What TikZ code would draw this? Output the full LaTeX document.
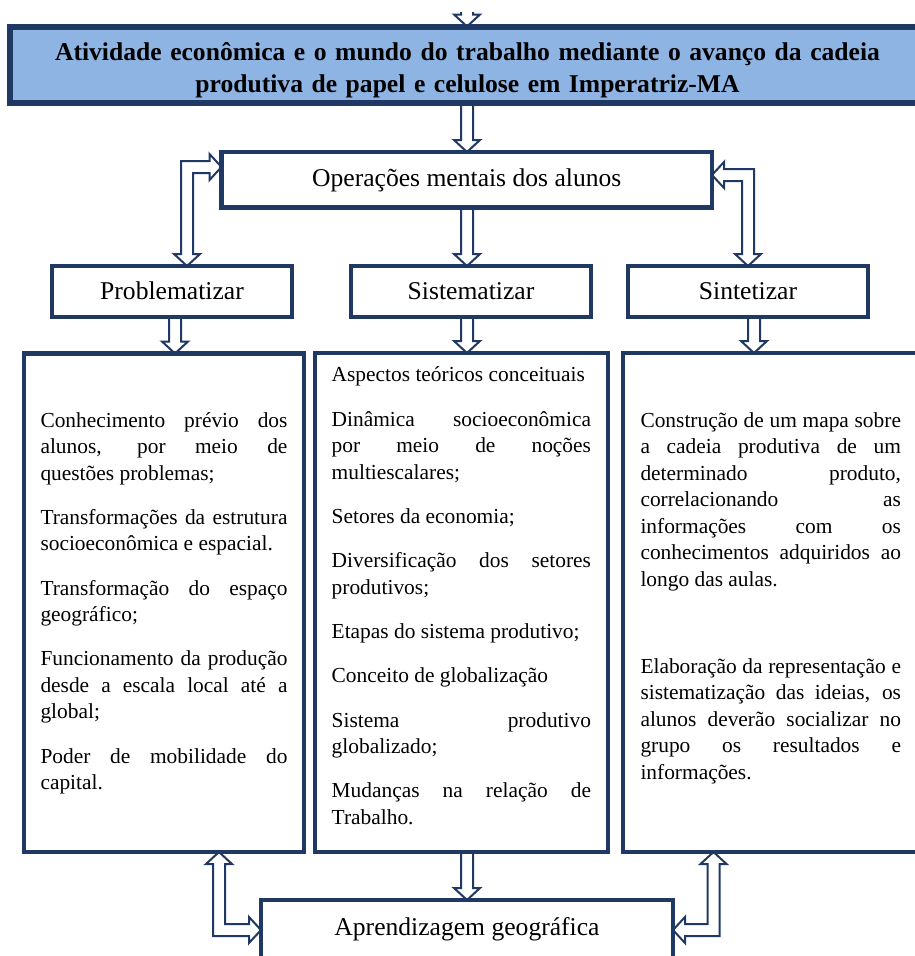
\documentclass[tikz,border=0pt]{standalone}
\usepackage{fontspec}
\setmainfont{Liberation Serif}
\usetikzlibrary{calc}
\definecolor{navy}{RGB}{31,56,100}
\definecolor{lblue}{RGB}{142,180,227}
\pgfdeclarelayer{bg}
\pgfsetlayers{bg,main}
\hyphenpenalty=10000
\exhyphenpenalty=10000
\tolerance=10000
\newcommand\arw{6pt}
\newcommand\arh{13pt}
\newcommand\arl{12pt}
\newcommand\txtfont{\fontsize{21.4}{26.5}\selectfont}
\newcommand\hdfont{\fontsize{25.6}{31}\selectfont}
\newcommand\ttlfont{\fontsize{25.6}{32.5}\selectfont\bfseries}
\newcommand\pgap{\par\vspace{17.8pt}}
% straight vertical block arrow from #1 to tip #2
\newcommand\varrow[2]{%
  \draw[blk] let \p1=(#1), \p2=(#2), \n1={sign(\y2-\y1)} in
    ({\x2-\arw},\y1) -- ({\x2-\arw},{\y2-(\n1)*\arl}) -- ({\x2-\arh},{\y2-(\n1)*\arl})
    -- (\p2) -- ({\x2+\arh},{\y2-(\n1)*\arl}) -- ({\x2+\arw},{\y2-(\n1)*\arl}) -- ({\x2+\arw},\y1);}
% bent double-headed block arrow: #1 vertical tip, #2 horizontal tip, #3 dx, #4 dy
\newcommand\bentarrow[4]{%
  \draw[blk] let \p1=(#1), \p2=(#2) in
    (\p1) -- ({\x1+(#3)*\arh},{\y1-(#4)*\arl}) -- ({\x1+(#3)*\arw},{\y1-(#4)*\arl})
    -- ({\x1+(#3)*\arw},{\y2+(#4)*\arw}) -- ({\x2-(#3)*\arl},{\y2+(#4)*\arw})
    -- ({\x2-(#3)*\arl},{\y2+(#4)*\arh}) -- (\p2)
    -- ({\x2-(#3)*\arl},{\y2-(#4)*\arh}) -- ({\x2-(#3)*\arl},{\y2-(#4)*\arw})
    -- ({\x1-(#3)*\arw},{\y2-(#4)*\arw}) -- ({\x1-(#3)*\arw},{\y1-(#4)*\arl})
    -- ({\x1-(#3)*\arh},{\y1-(#4)*\arl}) -- cycle;}
\begin{document}
\begin{tikzpicture}[x=1pt,y=-1pt,
  box/.style={draw=navy, line width=4.4pt, fill=white, outer sep=0pt, inner xsep=0pt, inner ysep=0pt, anchor=north west},
  hbox/.style={box, font=\hdfont},
  tbox/.style={box, font=\txtfont, align=justify},
  blk/.style={draw=navy, fill=white, line width=2pt, line join=miter}]
\useasboundingbox (0,0) rectangle (914,956);

\node[box, line width=6pt, fill=lblue, font=\ttlfont, align=center, text width=860pt, inner xsep=27.5pt,
  text height=33.5pt, text depth=43pt] (ttl) at (10,26.5)
  {Atividade econômica e o mundo do trabalho mediante o avanço da cadeia\\produtiva de papel e celulose em Imperatriz-MA};

\node[hbox, minimum width=490.5pt, text height=34pt, text depth=21.5pt] (ops) at (221.5,152) {Operações mentais dos alunos};

\node[hbox, minimum width=240pt, text height=33pt, text depth=18pt] (prob) at (52,266) {Problematizar};
\node[hbox, minimum width=240pt, text height=33pt, text depth=18pt] (sist) at (351,266) {Sistematizar};
\node[hbox, minimum width=240pt, text height=33pt, text depth=18pt] (sint) at (628,266) {Sintetizar};

\node[tbox, text width=247pt, inner xsep=16.5pt, text height=73.5pt, text depth=425pt] (lbox) at (24,353.5)
  {Conhecimento prévio dos\linebreak alunos, por meio de\linebreak questões problemas;\pgap
   Transformações da estrutura\linebreak socioeconômica e espacial.\pgap
   Transformação do espaço\linebreak geográfico;\pgap
   Funcionamento da produção\linebreak desde a escala local até a\linebreak global;\pgap
   Poder de mobilidade do\linebreak capital.};

\node[tbox, text width=259.3pt, inner xsep=17pt, text height=28.7pt, text depth=470.3pt] (mbox) at (314.7,353)
  {Aspectos teóricos conceituais\pgap
   Dinâmica socioeconômica\linebreak por meio de noções\linebreak multiescalares;\pgap
   Setores da economia;\pgap
   Diversificação dos setores\linebreak produtivos;\pgap
   Etapas do sistema produtivo;\pgap
   Conceito de globalização\pgap
   Sistema produtivo\linebreak globalizado;\pgap
   Mudanças na relação de\linebreak Trabalho.};

\node[tbox, text width=260.5pt, inner xsep=17.5pt, text height=74.3pt, text depth=424.7pt] (rbox) at (623,353)
  {Construção de um mapa sobre\linebreak a cadeia produtiva de um\linebreak determinado produto,\linebreak correlacionando as\linebreak informações com os\linebreak conhecimentos adquiridos ao\linebreak longo das aulas.\par\vspace{60.5pt}
   Elaboração da representação e\linebreak sistematização das ideias, os\linebreak alunos deverão socializar no\linebreak grupo os resultados e\linebreak informações.};

\node[hbox, minimum width=412pt, text height=35pt, text depth=55pt] (apr) at (261,900) {Aprendizagem geográfica};

\coordinate (c467) at (467,0);
\coordinate (c175) at (175,0);
\coordinate (c754) at (754,0);
\coordinate (b1) at (187,167);
\coordinate (b2) at (748,175);
\coordinate (b3) at (219,930);
\coordinate (b4) at (713.5,930);
\coordinate (topin) at (467,-20);

\begin{pgfonlayer}{bg}
  \begin{scope}
    \clip (0,12) rectangle (914,956);
    \varrow{topin}{ttl.north -| c467}
  \end{scope}
  \varrow{ttl.south -| c467}{ops.north -| c467}
  \varrow{ops.south -| c467}{sist.north -| c467}
  \varrow{prob.south -| c175}{lbox.north -| c175}
  \varrow{sist.south -| c467}{mbox.north -| c467}
  \varrow{sint.south -| c754}{rbox.north -| c754}
  \varrow{mbox.south -| c467}{apr.north -| c467}
  \bentarrow{prob.north -| b1}{ops.west |- b1}{1}{-1}
  \bentarrow{sint.north -| b2}{ops.east |- b2}{-1}{-1}
  \bentarrow{lbox.south -| b3}{apr.west |- b3}{1}{1}
  \bentarrow{rbox.south -| b4}{apr.east |- b4}{-1}{1}
\end{pgfonlayer}
\end{tikzpicture}
\end{document}
